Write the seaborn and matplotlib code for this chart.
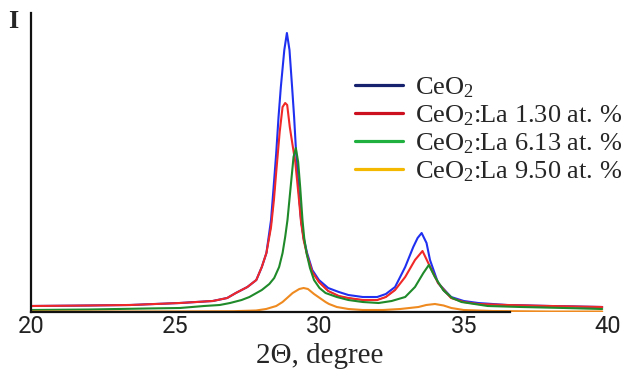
import numpy as np
import pandas as pd
import matplotlib
matplotlib.use("Agg")
import matplotlib.pyplot as plt
from matplotlib.lines import Line2D
import seaborn as sns

# ---- data ----
ceo2_x = [20.0, 22.0, 23.44, 25.16, 26.3, 26.8, 27.1, 27.5, 27.81, 28.0, 28.16, 28.32, 28.41, 28.5, 28.58,
          28.66, 28.78, 28.87, 28.96, 29.05, 29.12, 29.19, 29.27, 29.36, 29.45, 29.57, 29.75, 29.98, 30.3,
          30.67, 31.0, 31.5, 32.0, 32.3, 32.62, 32.97, 33.25, 33.4, 33.54, 33.71, 33.83, 34.11, 34.56,
          35.0, 35.5, 36.5, 38.0, 39.8]
ceo2_y = [6, 6.5, 7, 9, 11, 14, 19, 25, 32, 45, 59, 92, 125, 159, 195,
          225, 262, 279, 262, 225, 195, 159, 125, 92, 74, 59, 42, 32, 24,
          20, 17, 15, 15, 18, 25, 45, 65, 74, 79, 69, 52, 29, 15,
          11, 9, 7, 6, 5]

la130_x = [20.0, 22.0, 23.44, 25.16, 26.3, 26.8, 27.1, 27.5, 27.81, 28.0, 28.16, 28.32, 28.42, 28.5, 28.62,
           28.72, 28.81, 28.88, 28.97, 29.05, 29.16, 29.27, 29.36, 29.45, 29.57, 29.75, 29.98, 30.3, 30.67,
           31.0, 31.5, 32.0, 32.3, 32.62, 32.97, 33.31, 33.57, 33.77, 34.11, 34.56, 35.0, 35.5, 36.5,
           38.0, 39.8]
la130_y = [6, 6.5, 7, 9, 11, 14, 19, 25, 32, 45, 59, 85, 112, 140, 180,
           205, 209, 207, 185, 170, 150, 118, 90, 72, 57, 40, 30, 21, 16,
           14, 12, 12, 15, 22, 35, 52, 61, 49, 29, 14, 10, 8, 7,
           6, 5]

la613_x = [20.0, 22.0, 24.0, 25.16, 26.0, 26.54, 26.9, 27.3, 27.57, 28.0, 28.26, 28.43, 28.6, 28.72,
           28.81, 28.89, 29.0, 29.1, 29.18, 29.26, 29.33, 29.41, 29.47, 29.55, 29.67, 29.81, 30.0, 30.21,
           30.6, 31.0, 31.5, 32.05, 32.5, 32.97, 33.31, 33.6, 33.79, 34.0, 34.29, 34.6, 34.92, 35.83,
           37.0, 38.5, 39.8]
la613_y = [2, 2.5, 3.5, 4, 6, 7, 9, 12, 15, 22, 28, 34, 45, 59,
           75, 92, 125, 155, 164, 150, 125, 92, 74, 59, 44, 32, 24, 19,
           15, 12, 10, 9, 11, 15, 25, 39, 47, 35, 22, 14, 10, 6,
           5, 4, 3]

la950_x = [20.0, 24.0, 27.0, 27.8, 28.15, 28.5, 28.72, 29.07, 29.3, 29.45, 29.6, 29.81, 30.21, 30.33,
           30.6, 31.0, 31.5, 32.2, 32.8, 33.43, 33.7, 34.0, 34.3, 34.57, 35.0, 36.0, 38.0, 39.8]
la950_y = [0.5, 0.5, 0.8, 1.5, 3, 6, 10, 19, 23, 24, 23, 18, 10, 8,
           5, 3, 2, 2, 3, 5, 7, 8, 6.5, 4, 2, 1, 0.5, 0.5]

# dark trace visible where the curves overlap (not in legend)
dark_x = [20.0, 22.0, 23.44, 25.16, 26.3, 26.8, 27.1, 27.5, 27.81, 28.0, 28.16, 28.32, 28.45,
          29.3, 29.36, 29.45, 29.57, 29.75, 29.98, 30.3, 30.67, 31.0, 31.5, 32.0, 32.3, 32.62,
          33.79, 33.9, 34.11, 34.3, 34.56, 35.0, 35.5, 36.5, 38.0, 39.8]
dark_y = [6, 6.5, 7, 9, 11, 14, 19, 25, 32, 45, 59, 85, 125,
          110, 90, 72, 57, 40, 30, 21, 16, 14, 12, 12, 15, 22,
          47, 42, 29, 21, 14, 10, 8, 7, 6, 5]
dark_seg = [0] * 13 + [1] * 13 + [2] * 10

labels = ["CeO$_2$", "CeO$_2$:La 1.30 at. %", "CeO$_2$:La 6.13 at. %", "CeO$_2$:La 9.50 at. %"]
curve_colors = ["#2030f0", "#f02828", "#1f8a2a", "#ee8a20"]
legend_colors = ["#16226e", "#cc1020", "#20b040", "#f5b800"]
x_ticks = [20, 25, 30, 35, 40]
y_marks = [9, 95, 187, 279]

# ---- style ----
sns.set_theme(style="white")
plt.rcParams["mathtext.fontset"] = "custom"
plt.rcParams["mathtext.rm"] = "Liberation Serif"
plt.rcParams["mathtext.it"] = "Liberation Serif:italic"
plt.rcParams["font.family"] = ["Liberation Serif", "DejaVu Serif"]

fig = plt.figure(figsize=(6.28, 3.78), dpi=100)
ax = fig.add_axes([31 / 628, 1 - 312 / 378, (608 - 31) / 628, 299 / 378])

series = [(ceo2_x, ceo2_y), (la130_x, la130_y), (la613_x, la613_y), (la950_x, la950_y)]
for (xs, ys), col in zip(series, curve_colors):
    df = pd.DataFrame({"x": xs, "y": ys})
    sns.lineplot(data=df, x="x", y="y", color=col, lw=1.5, sort=False, estimator=None, ax=ax)

dfd = pd.DataFrame({"x": dark_x, "y": dark_y, "seg": dark_seg})
sns.lineplot(data=dfd, x="x", y="y", units="seg", color="#111111", lw=0.9, estimator=None,
             sort=False, ax=ax, zorder=1.5, alpha=0.8)

ax.set_xlim(20, 40)
ax.set_ylim(0, 299)
ax.set_xticks(x_ticks)
ax.set_xticklabels([str(t) for t in x_ticks], fontfamily="Roboto", fontsize=17)
ax.set_yticks(y_marks)
ax.set_yticklabels([])
ax.tick_params(axis="x", length=0, pad=2, colors="#222222")
ax.tick_params(axis="y", length=2.5, width=1.5, color="#8cc4dc", direction="out", pad=0)

for s in ["top", "right"]:
    ax.spines[s].set_visible(False)
ax.spines["left"].set_color("#111111")
ax.spines["left"].set_linewidth(1.6)
ax.spines["bottom"].set_color("#111111")
ax.spines["bottom"].set_linewidth(1.6)
ax.spines["bottom"].set_bounds(20, 36.6)

ax.set_xlabel("2\u0398, degree", fontsize=21, family=["Liberation Serif", "DejaVu Serif"])
ax.xaxis.set_label_coords(0.5, -0.105)
ax.set_ylabel("")
fig.text(13 / 628, 1 - 22 / 378, "I", fontsize=19, fontweight="bold", ha="center", va="center",
         family=["Liberation Serif"])

handles = [Line2D([], [], color=c, lw=2.3) for c in legend_colors]
leg = ax.legend(handles, labels, loc="upper left", bbox_to_anchor=(355 / 628, 1 - 75 / 378),
                bbox_transform=fig.transFigure, frameon=False, fontsize=19, borderpad=0,
                borderaxespad=0, handlelength=1.82, handletextpad=0.45, labelspacing=0.13)

fig.savefig("out.png", dpi=100)
